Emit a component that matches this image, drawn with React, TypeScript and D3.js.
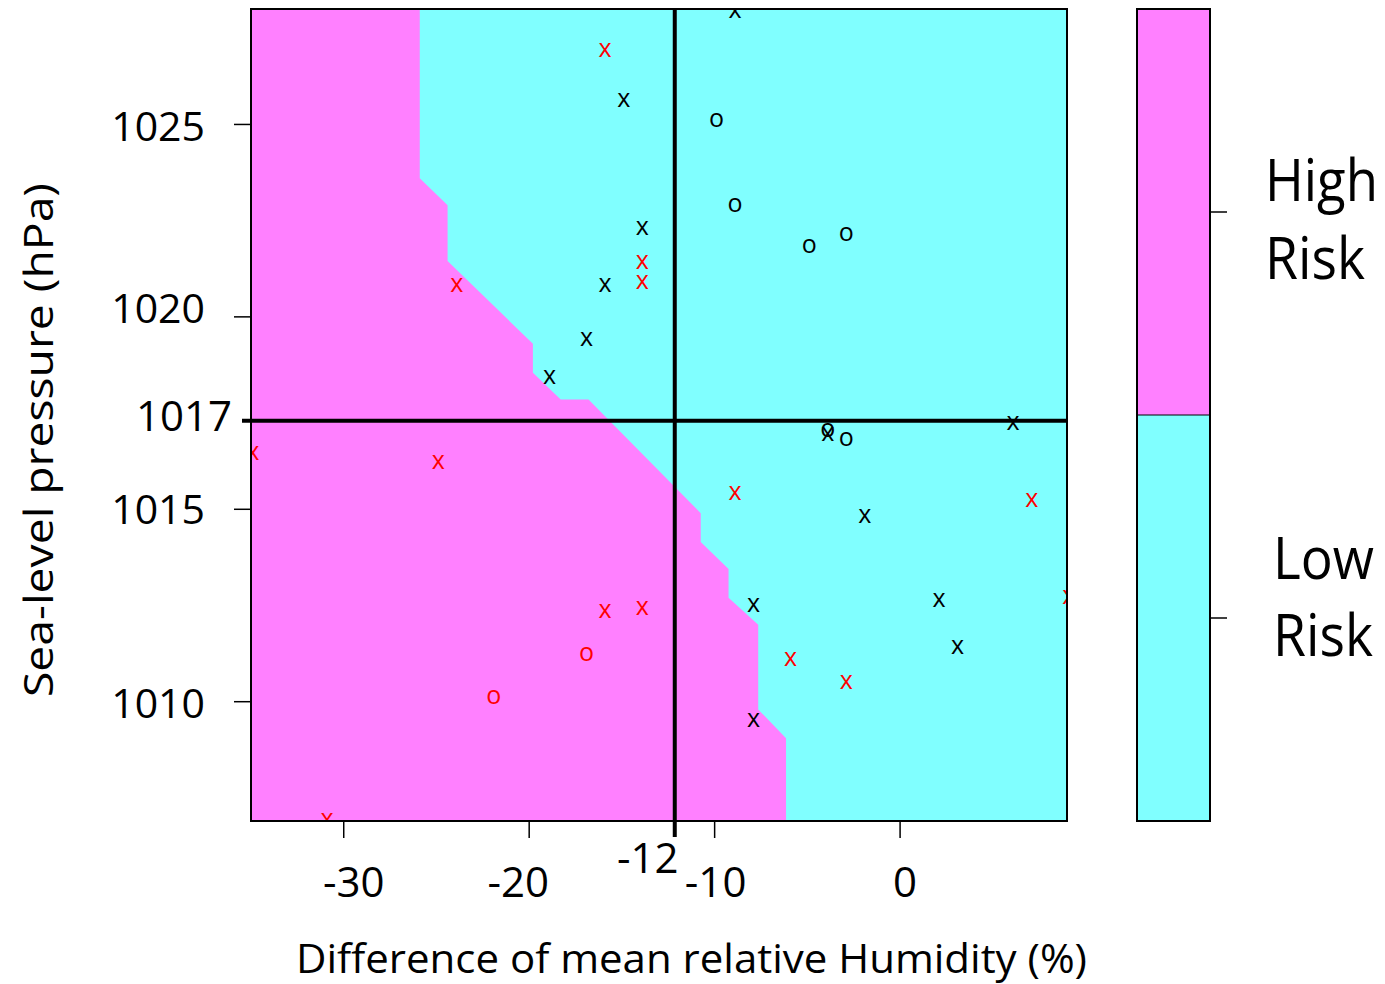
import React from "react";
import * as d3 from "d3";

// ---------- data ----------
const X_DOMAIN = [-35, 9];
const Y_DOMAIN = [1006.9, 1028];
const X_TICKS = [-30, -20, -10, 0];
const Y_TICKS = [1010, 1015, 1020, 1025];
const X_THRESHOLD = -12.15;
const X_THRESHOLD_LABEL = "-12";
const Y_THRESHOLD = 1017.3;
const Y_THRESHOLD_LABEL = "1017";

// edge of the "High Risk" region, from top to bottom
const BOUNDARY_HUM = [-25.9, -25.9, -24.4, -24.4, -19.8, -19.8, -18.3, -16.8, -10.75, -10.75, -9.25, -9.25, -7.65, -7.65, -6.15, -6.15];
const BOUNDARY_PRES = [1028, 1023.6, 1022.9, 1021.45, 1019.3, 1018.55, 1017.85, 1017.85, 1014.9, 1014.15, 1013.45, 1012.7, 1012.0, 1009.8, 1009.05, 1006.9];

// observations
const BLACK_X_HUM = [-9, -15, -14, -16, -17, -19, -4, 6, -2, 2, -8, 3, -8];
const BLACK_X_PRES = [1027.94, 1025.64, 1022.3, 1020.83, 1019.43, 1018.44, 1016.95, 1017.23, 1014.82, 1012.64, 1012.51, 1011.42, 1009.52];
const BLACK_O_HUM = [-10, -9, -5, -3, -4, -3];
const BLACK_O_PRES = [1025.1, 1022.89, 1021.83, 1022.15, 1017.06, 1016.82];
const RED_X_HUM = [-16, -14, -14, -24, -35, -25, -9, 7, -16, -14, 9, -6, -3, -31];
const RED_X_PRES = [1026.92, 1021.42, 1020.9, 1020.83, 1016.46, 1016.23, 1015.42, 1015.24, 1012.35, 1012.43, 1012.72, 1011.11, 1010.5, 1006.92];
const RED_O_HUM = [-17, -22];
const RED_O_PRES = [1011.23, 1010.11];

const LEGEND_CLASSES = ["High Risk", "Low Risk"];

const X_TITLE = "Difference of mean relative Humidity (%)";
const Y_TITLE = "Sea-level pressure (hPa)";

// ---------- style / layout ----------
const PINK = "#FF80FF";
const CYAN = "#80FFFF";
const FONT = "'Open Sans', 'DejaVu Sans', sans-serif";
const PLOT = { left: 251, right: 1067, top: 9, bottom: 821 };
const BAR = { left: 1137, right: 1210, top: 9, bottom: 821 };
const X_LABEL_DX = [10, -11, 1, 5];
const Y_LABEL_DY = [1.5, -0.5, -8.5, 1.5];
const MARKER_DX = 1.8;
const LEGEND_LAYOUT = [
  { x: 1265, lines: [{ dy: -11, w: 113 }, { dy: 66.5, w: 100 }] },
  { x: 1273, lines: [{ dy: -39.5, w: 101 }, { dy: 38, w: 100 }] },
];

export default function App() {
  const x = d3.scaleLinear().domain(X_DOMAIN).range([PLOT.left, PLOT.right]);
  const y = d3.scaleLinear().domain(Y_DOMAIN).range([PLOT.bottom, PLOT.top]);

  const highPts: [number, number][] = [
    [X_DOMAIN[0], Y_DOMAIN[1]],
    ...BOUNDARY_HUM.map((h, i) => [h, BOUNDARY_PRES[i]] as [number, number]),
    [X_DOMAIN[0], Y_DOMAIN[0]],
  ];
  const area = d3
    .line<[number, number]>()
    .x((d) => x(d[0]))
    .y((d) => y(d[1]));

  const series = [
    { hum: BLACK_X_HUM, pres: BLACK_X_PRES, color: "#000000", sym: "x" },
    { hum: BLACK_O_HUM, pres: BLACK_O_PRES, color: "#000000", sym: "o" },
    { hum: RED_X_HUM, pres: RED_X_PRES, color: "#FF0000", sym: "x" },
    { hum: RED_O_HUM, pres: RED_O_PRES, color: "#FF0000", sym: "o" },
  ];

  const band = d3.scaleBand<string>().domain(LEGEND_CLASSES).range([BAR.top, BAR.bottom]);
  const legendColors = [PINK, CYAN];

  return (
    <svg
      width={1385}
      height={984}
      style={{ position: "absolute", left: 0, top: 0, background: "#fff" }}
      fontFamily={FONT}
    >
      <defs>
        <clipPath id="plotclip">
          <rect x={PLOT.left} y={PLOT.top} width={PLOT.right - PLOT.left} height={PLOT.bottom - PLOT.top} />
        </clipPath>
      </defs>

      {/* prediction surface */}
      <rect x={PLOT.left} y={PLOT.top} width={PLOT.right - PLOT.left} height={PLOT.bottom - PLOT.top} fill={CYAN} />
      <path d={area(highPts) + "Z"} fill={PINK} />

      {/* points */}
      <g clipPath="url(#plotclip)">
        {series.map((s, si) =>
          s.hum.map((h, i) => (
            <text
              key={si + "-" + i}
              x={x(h) + MARKER_DX}
              y={y(s.pres[i]) + 6.7}
              fill={s.color}
              fontSize={25}
              textAnchor="middle"
            >
              {s.sym}
            </text>
          ))
        )}
      </g>

      {/* threshold lines */}
      <line x1={x(X_THRESHOLD)} x2={x(X_THRESHOLD)} y1={PLOT.top} y2={PLOT.bottom + 16} stroke="#000" strokeWidth={4} />
      <line x1={PLOT.left - 9} x2={PLOT.right} y1={y(Y_THRESHOLD)} y2={y(Y_THRESHOLD)} stroke="#000" strokeWidth={4} />

      {/* frame */}
      <rect
        x={PLOT.left}
        y={PLOT.top}
        width={PLOT.right - PLOT.left}
        height={PLOT.bottom - PLOT.top}
        fill="none"
        stroke="#000"
        strokeWidth={2}
      />

      {/* x axis */}
      {X_TICKS.map((t, i) => (
        <g key={"xt" + t}>
          <line x1={x(t)} x2={x(t)} y1={PLOT.bottom} y2={PLOT.bottom + 17} stroke="#000" strokeWidth={1.5} />
          <text x={x(t) + X_LABEL_DX[i]} y={897} fontSize={42} textAnchor="middle" fill="#000">
            {String(t)}
          </text>
        </g>
      ))}
      <text x={x(X_THRESHOLD) - 27} y={873} fontSize={42} textAnchor="middle" fill="#000">
        {X_THRESHOLD_LABEL}
      </text>

      {/* y axis */}
      {Y_TICKS.map((t, i) => (
        <g key={"yt" + t}>
          <line x1={PLOT.left - 17} x2={PLOT.left} y1={y(t)} y2={y(t)} stroke="#000" strokeWidth={1.5} />
          <text x={205} y={y(t) + Y_LABEL_DY[i] + 15} fontSize={41} textAnchor="end" fill="#000">
            {String(t)}
          </text>
        </g>
      ))}
      <text x={232} y={y(Y_THRESHOLD) + 10.5} fontSize={42} textAnchor="end" fill="#000">
        {Y_THRESHOLD_LABEL}
      </text>

      {/* axis titles */}
      <text x={296} y={973} fontSize={40} textLength={791} lengthAdjust="spacingAndGlyphs" fill="#000">
        {X_TITLE}
      </text>
      <text
        transform="translate(53,440) rotate(-90)"
        fontSize={40}
        textAnchor="middle"
        textLength={514}
        lengthAdjust="spacingAndGlyphs"
        fill="#000"
      >
        {Y_TITLE}
      </text>

      {/* colour bar legend */}
      {LEGEND_CLASSES.map((c, i) => {
        const y0 = band(c) as number;
        const yc = y0 + band.bandwidth() / 2;
        const words = c.split(" ");
        const lay = LEGEND_LAYOUT[i];
        return (
          <g key={c}>
            <rect x={BAR.left} y={y0} width={BAR.right - BAR.left} height={band.bandwidth()} fill={legendColors[i]} />
            <line x1={BAR.right} x2={BAR.right + 17} y1={yc} y2={yc} stroke="#000" strokeWidth={1.5} />
            {words.map((w, j) => (
              <text
                key={w + j}
                x={lay.x}
                y={yc + lay.lines[j].dy}
                fontSize={59}
                textLength={lay.lines[j].w}
                lengthAdjust="spacingAndGlyphs"
                fill="#000"
              >
                {w}
              </text>
            ))}
          </g>
        );
      })}
      <line x1={BAR.left} x2={BAR.right} y1={band(LEGEND_CLASSES[1])} y2={band(LEGEND_CLASSES[1])} stroke="#000" strokeWidth={1} />
      <rect
        x={BAR.left}
        y={BAR.top}
        width={BAR.right - BAR.left}
        height={BAR.bottom - BAR.top}
        fill="none"
        stroke="#000"
        strokeWidth={2}
      />
    </svg>
  );
}
